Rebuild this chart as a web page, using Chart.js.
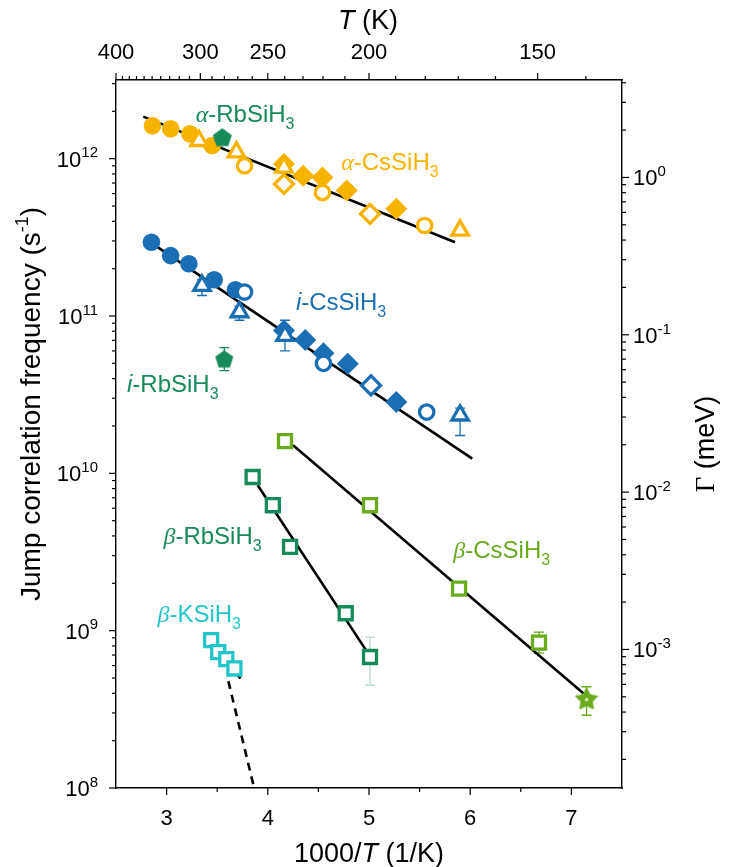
<!DOCTYPE html>
<html><head><meta charset="utf-8">
<script src="https://cdn.jsdelivr.net/npm/chart.js@4.4.1/dist/chart.umd.min.js"></script>
<style>html,body{margin:0;padding:0;background:#fff}#wrap{width:729px;height:867px;position:relative}</style>
</head><body><div id="wrap"><canvas id="c"></canvas></div>
<script>
// ---------- axis ranges / tick values ----------
const X_MIN = 2.5, X_MAX = 7.5;
const Y_MIN = 1e8, Y_MAX = Math.pow(10, 12.5);
const GAMMA_PER_HZ = 1.3164e-12;          // Γ (meV) = 2ħ·ν
const bottomMajor = [3, 4, 5, 6, 7];
const bottomMinor = [3.5, 4.5, 5.5, 6.5];
const topMajorT = [400, 300, 250, 200, 150];
const topMinorT = [390,380,370,360,350,340,330,320,310,290,280,270,260,240,230,220,210,190,180,170,160,140];
const leftExp = [8, 9, 10, 11, 12];
const rightExp = [-3, -2, -1, 0];

// ---------- α-CsSiH3 (orange) ----------
const aCsCircleX = [2.86, 3.04, 3.23, 3.45];
const aCsCircleY = [1.62e12, 1.55e12, 1.44e12, 1.21e12];
const aCsDiaX = [4.16, 4.35, 4.54, 4.78, 5.27];
const aCsDiaY = [9.25e11, 7.8e11, 7.6e11, 6.27e11, 4.8e11];
const aCsOpenDiaX = [4.16, 5.01];
const aCsOpenDiaY = [6.9e11, 4.46e11];
const aCsTriX = [3.32, 3.69, 4.16, 5.90];
const aCsTriY = [1.30e12, 1.10e12, 8.8e11, 3.5e11];
const aCsOpenCircX = [3.77, 4.54, 5.55];
const aCsOpenCircY = [9.0e11, 6.1e11, 3.76e11];
const aCsFitX = [2.77, 5.85];
const aCsFitY = [1.85e12, 2.94e11];

// ---------- α-RbSiH3 ----------
const aRbX = [3.55];
const aRbY = [1.37e12];

// ---------- i-CsSiH3 (blue) ----------
const iCsCircleX = [2.85, 3.04, 3.22, 3.47, 3.68];
const iCsCircleY = [2.94e11, 2.42e11, 2.15e11, 1.70e11, 1.47e11];
const iCsDiaX = [4.16, 4.37, 4.55, 4.79, 5.27];
const iCsDiaY = [8.1e10, 7.05e10, 5.8e10, 4.97e10, 2.84e10];
const iCsOpenDiaX = [5.02];
const iCsOpenDiaY = [3.62e10];
const iCsTriX = [3.35, 3.72, 4.17, 5.90];
const iCsTriY = [1.56e11, 1.06e11, 7.5e10, 2.34e10];
const iCsTriLo = [1.35e11, 9.4e10, 6.0e10, 1.74e10];
const iCsTriHi = [1.70e11, 1.15e11, 9.4e10, 2.6e10];
const iCsOpenCircX = [3.77, 4.55, 5.57];
const iCsOpenCircY = [1.42e11, 5.0e10, 2.45e10];
const iCsFitX = [2.80, 6.02];
const iCsFitY = [3.06e11, 1.24e10];

// ---------- i-RbSiH3 ----------
const iRbX = [3.57];
const iRbY = [5.35e10];
const iRbLo = [4.5e10];
const iRbHi = [6.3e10];

// ---------- β-CsSiH3 ----------
const bCsX = [4.17, 5.01, 5.89, 6.68];
const bCsY = [1.60e10, 6.27e9, 1.85e9, 8.4e8];
const bCsLo = [null, null, null, 7.2e8];
const bCsHi = [null, null, null, 9.8e8];
const bCsStarX = [7.15];
const bCsStarY = [3.7e8];
const bCsStarLo = [2.9e8];
const bCsStarHi = [4.4e8];
const bCsFitX = [4.25, 7.12];
const bCsFitY = [1.51e10, 3.99e8];

// ---------- β-RbSiH3 ----------
const bRbX = [3.85, 4.05, 4.22, 4.77, 5.01];
const bRbY = [9.48e9, 6.27e9, 3.41e9, 1.29e9, 6.8e8];
const bRbLo = [null, null, null, null, 4.5e8];
const bRbHi = [null, null, null, null, 9.1e8];
const bRbFitX = [3.90, 4.97];
const bRbFitY = [8.39e9, 7.52e8];

// ---------- β-KSiH3 ----------
const bKX = [3.44, 3.51, 3.59, 3.67];
const bKY = [8.7e8, 7.3e8, 6.6e8, 5.75e8];
const bKFitX = [3.39, 3.73];
const bKFitY = [9.36e8, 4.97e8];
const bKDashX = [3.61, 3.865];
const bKDashY = [4.78e8, 1.0e8];

// ---------- colours ----------
const ORANGE = '#f6b300', BLUE = '#1a6fb4', GREEN = '#178a5a', LGREEN = '#6aab1e', CYAN = '#22c6c8', BRB_ERR = '#b5dccd';

const pts = (xs, ys) => xs.map((x, i) => ({x: x, y: ys[i]}));

function makeShape(kind, size, color) {
  const c = document.createElement('canvas');
  c.width = size; c.height = size;
  const g = c.getContext('2d');
  const cx = size / 2, cy = size / 2;
  g.fillStyle = color;
  g.beginPath();
  if (kind === 'pentagon') {
    const r = size / 2 - 0.5;
    for (let i = 0; i < 5; i++) {
      const a = -Math.PI / 2 + i * 2 * Math.PI / 5;
      g.lineTo(cx + r * Math.cos(a), cy + 1 + r * Math.sin(a));
    }
  } else {
    const R = size / 2 - 0.5, r = R * 0.52;
    for (let i = 0; i < 10; i++) {
      const a = -Math.PI / 2 + i * Math.PI / 5;
      const rr = i % 2 ? r : R;
      g.lineTo(cx + rr * Math.cos(a), cy + 1 + rr * Math.sin(a));
    }
  }
  g.closePath();
  g.fill();
  if (kind === 'star') { g.fillStyle = '#fff'; g.beginPath(); g.arc(cx, cy + 1, 1.6, 0, Math.PI * 2); g.fill(); }
  return c;
}

function markers(label, xs, ys, style, color, opts) {
  return Object.assign({
    type: 'scatter', label: label, data: pts(xs, ys), pointStyle: style,
    pointRadius: 8, pointHoverRadius: 8, borderColor: color, backgroundColor: color,
    pointBorderWidth: 0, showLine: false, xAxisID: 'x', yAxisID: 'y'
  }, opts || {});
}
function openMarkers(label, xs, ys, style, color, r, opts) {
  return markers(label, xs, ys, style, color, Object.assign({
    pointRadius: r, pointHoverRadius: r, backgroundColor: '#ffffff', pointBorderWidth: 3.3, borderWidth: 3.3
  }, opts || {}));
}
function fitLine(label, xs, ys, dash) {
  return {type: 'scatter', label: label, data: pts(xs, ys), showLine: true, borderColor: '#000',
    borderWidth: 2.6, pointRadius: 0, pointHoverRadius: 0, borderDash: dash || [], order: 100,
    xAxisID: 'x', yAxisID: 'y'};
}

const datasets = [
  fitLine('α-CsSiH3 fit', aCsFitX, aCsFitY),
  fitLine('i-CsSiH3 fit', iCsFitX, iCsFitY),
  fitLine('β-CsSiH3 fit', bCsFitX, bCsFitY),
  fitLine('β-RbSiH3 fit', bRbFitX, bRbFitY),
  fitLine('β-KSiH3 fit', bKFitX, bKFitY),
  fitLine('β-KSiH3 extrapolation', bKDashX, bKDashY, [8, 6]),

  markers('α-CsSiH3 ●', aCsCircleX, aCsCircleY, 'circle', ORANGE, {pointRadius: 8.8, order: 60}),
  markers('α-CsSiH3 ◆', aCsDiaX, aCsDiaY, 'rectRot', ORANGE, {pointRadius: 11, order: 50}),
  openMarkers('α-CsSiH3 ◇', aCsOpenDiaX, aCsOpenDiaY, 'rectRot', ORANGE, 9.5, {order: 40}),
  openMarkers('α-CsSiH3 △', aCsTriX, aCsTriY, 'triangle', ORANGE, 9.5, {order: 30}),
  openMarkers('α-CsSiH3 ○', aCsOpenCircX, aCsOpenCircY, 'circle', ORANGE, 7.2, {order: 20}),
  markers('α-RbSiH3', aRbX, aRbY, makeShape('pentagon', 21, GREEN), GREEN, {order: 10}),

  markers('i-CsSiH3 ●', iCsCircleX, iCsCircleY, 'circle', BLUE, {pointRadius: 8.8, order: 60}),
  markers('i-CsSiH3 ◆', iCsDiaX, iCsDiaY, 'rectRot', BLUE, {pointRadius: 11, order: 50}),
  openMarkers('i-CsSiH3 ◇', iCsOpenDiaX, iCsOpenDiaY, 'rectRot', BLUE, 9.5, {order: 40}),
  openMarkers('i-CsSiH3 △', iCsTriX, iCsTriY, 'triangle', BLUE, 9.5, {order: 30}),
  openMarkers('i-CsSiH3 ○', iCsOpenCircX, iCsOpenCircY, 'circle', BLUE, 7.2, {order: 20}),
  markers('i-RbSiH3', iRbX, iRbY, makeShape('pentagon', 20, GREEN), GREEN, {order: 10}),

  openMarkers('β-CsSiH3 □', bCsX, bCsY, 'rect', LGREEN, 9.2, {order: 20}),
  markers('β-CsSiH3 ★', bCsStarX, bCsStarY, makeShape('star', 26, LGREEN), LGREEN, {order: 10}),
  openMarkers('β-RbSiH3 □', bRbX, bRbY, 'rect', GREEN, 9.2, {order: 20}),
  openMarkers('β-KSiH3 □', bKX, bKY, 'rect', CYAN, 9.2, {order: 20})
];

const errorBars = [
  {xs: iCsTriX, lo: iCsTriLo, hi: iCsTriHi, color: BLUE},
  {xs: iRbX, lo: iRbLo, hi: iRbHi, color: GREEN},
  {xs: bCsX, lo: bCsLo, hi: bCsHi, color: LGREEN},
  {xs: bCsStarX, lo: bCsStarLo, hi: bCsStarHi, color: LGREEN},
  {xs: bRbX, lo: bRbLo, hi: bRbHi, color: BRB_ERR}
];

const SANS = '"Liberation Sans", Arial, sans-serif';
const SERIF = '"Liberation Serif", "Times New Roman", serif';
const annotations = [
  {x: 3.287, y: 1.93e12, color: GREEN,  segs: [['α', 'gi'], ['-RbSiH', 'n'], ['3', 's']]},
  {x: 4.725, y: 9.62e11, color: ORANGE, segs: [['α', 'gi'], ['-CsSiH', 'n'], ['3', 's']]},
  {x: 4.278, y: 1.24e11, color: BLUE,   segs: [['i', 'i'], ['-CsSiH', 'n'], ['3', 's']]},
  {x: 2.609, y: 3.74e10, color: GREEN,  segs: [['i', 'i'], ['-RbSiH', 'n'], ['3', 's']]},
  {x: 2.969, y: 4.04e9,  color: GREEN,  segs: [['β', 'gi'], ['-RbSiH', 'n'], ['3', 's']]},
  {x: 2.910, y: 1.29e9,  color: CYAN,   segs: [['β', 'gi'], ['-KSiH', 'n'], ['3', 's']]},
  {x: 5.833, y: 3.28e9,  color: LGREEN, segs: [['β', 'gi'], ['-CsSiH', 'n'], ['3', 's']]}
];

function fontFor(kind, size) {
  if (kind === 'gi') return 'italic ' + size + 'px ' + SERIF;
  if (kind === 'g') return size + 'px ' + SERIF;
  if (kind === 'i') return 'italic ' + size + 'px ' + SANS;
  if (kind === 's' || kind === 'sup') return Math.round(size * 0.66) + 'px ' + SANS;
  return size + 'px ' + SANS;
}
function drawRich(ctx, segs, x, baseline, size, align) {
  let total = 0;
  const m = segs.map(s => { ctx.font = fontFor(s[1], size); const w = ctx.measureText(s[0]).width; total += w; return w; });
  let cx = align === 'right' ? x - total : (align === 'center' ? x - total / 2 : x);
  segs.forEach((s, i) => {
    ctx.font = fontFor(s[1], size);
    let dy = 0;
    if (s[1] === 's') dy = size * 0.28;
    if (s[1] === 'sup') dy = -size * 0.42;
    ctx.fillText(s[0], cx, baseline + dy);
    cx += m[i];
  });
}

const decor = {
  id: 'decor',
  beforeDatasetsDraw(chart) {
    const ctx = chart.ctx, xs = chart.scales.x, ys = chart.scales.y;
    ctx.save();
    ctx.lineWidth = 1.3;
    errorBars.forEach(eb => {
      ctx.strokeStyle = eb.color;
      eb.xs.forEach((xv, i) => {
        if (eb.lo[i] == null) return;
        const px = xs.getPixelForValue(xv), p1 = ys.getPixelForValue(eb.lo[i]), p2 = ys.getPixelForValue(eb.hi[i]);
        ctx.beginPath();
        ctx.moveTo(px, p1); ctx.lineTo(px, p2);
        ctx.moveTo(px - 5, p1); ctx.lineTo(px + 5, p1);
        ctx.moveTo(px - 5, p2); ctx.lineTo(px + 5, p2);
        ctx.stroke();
      });
    });
    ctx.restore();
  },
  afterDraw(chart) {
    const ctx = chart.ctx, ca = chart.chartArea;
    const xs = chart.scales.x, xt = chart.scales.xTop, ys = chart.scales.y, y2 = chart.scales.y2;
    ctx.save();
    ctx.strokeStyle = '#000'; ctx.fillStyle = '#000'; ctx.lineWidth = 1.2;
    const L = (a, b, c, d) => { ctx.beginPath(); ctx.moveTo(a, b); ctx.lineTo(c, d); ctx.stroke(); };
    const MAJ = 7, MIN = 4;
    bottomMajor.forEach(v => { const p = xs.getPixelForValue(v); L(p, ca.bottom, p, ca.bottom + MAJ); });
    bottomMinor.forEach(v => { const p = xs.getPixelForValue(v); L(p, ca.bottom, p, ca.bottom + MIN); });
    topMajorT.forEach(T => { const p = xt.getPixelForValue(1000 / T); L(p, ca.top, p, ca.top - MAJ); });
    topMinorT.forEach(T => { const p = xt.getPixelForValue(1000 / T); L(p, ca.top, p, ca.top - MIN); });
    for (let e = 8; e <= 12; e++) for (let k = 1; k <= 9; k++) {
      const v = k * Math.pow(10, e); if (v > Y_MAX) break;
      const p = ys.getPixelForValue(v); L(ca.left - (k === 1 ? MAJ : MIN), p, ca.left, p);
    }
    for (let e = -4; e <= 0; e++) for (let k = 1; k <= 9; k++) {
      const v = k * Math.pow(10, e); if (v < y2.min || v > y2.max) continue;
      const p = y2.getPixelForValue(v); L(ca.right, p, ca.right + (k === 1 ? MAJ : MIN), p);
    }
    const TS = 22;
    ctx.textBaseline = 'alphabetic';
    ctx.font = TS + 'px ' + SANS; ctx.textAlign = 'center';
    bottomMajor.forEach(v => ctx.fillText(String(v), xs.getPixelForValue(v), 825));
    topMajorT.forEach(T => ctx.fillText(String(T), xt.getPixelForValue(1000 / T), 59));
    ctx.textAlign = 'left';
    leftExp.forEach(e => drawRich(ctx, [['10', 'n'], [String(e), 'sup']], 98, ys.getPixelForValue(Math.pow(10, e)) + 8, TS, 'right'));
    rightExp.forEach(e => drawRich(ctx, [['10', 'n'], [String(e), 'sup']], 633, y2.getPixelForValue(Math.pow(10, e)) + 8, TS, 'left'));
    const AS = 27;
    drawRich(ctx, [['1000/', 'n'], ['T', 'i'], [' (1/K)', 'n']], (ca.left + ca.right) / 2, 862, AS, 'center');
    drawRich(ctx, [['T', 'i'], [' (K)', 'n']], 368, 29, AS, 'center');
    ctx.save(); ctx.translate(40, 404); ctx.rotate(-Math.PI / 2);
    drawRich(ctx, [['Jump correlation frequency (s', 'n'], ['-1', 'sup'], [')', 'n']], 0, 0, 28, 'center');
    ctx.restore();
    ctx.save(); ctx.translate(714, 444); ctx.rotate(-Math.PI / 2);
    drawRich(ctx, [['Γ', 'g'], [' (meV)', 'n']], 0, 0, AS, 'center');
    ctx.restore();
    const NS = 24;
    annotations.forEach(a => {
      ctx.fillStyle = a.color;
      drawRich(ctx, a.segs, xs.getPixelForValue(a.x), ys.getPixelForValue(a.y) + NS * 0.36, NS, 'left');
    });
    ctx.restore();
  }
};

const axisBase = {grid: {display: false}, border: {display: true, color: '#000', width: 1.4}, ticks: {display: false}};
new Chart(document.getElementById('c'), {
  type: 'scatter',
  data: {datasets: datasets},
  options: {
    responsive: true, maintainAspectRatio: false, animation: false, devicePixelRatio: 1,
    layout: {padding: 0},
    plugins: {legend: {display: false}, tooltip: {enabled: false}},
    scales: {
      x: Object.assign({type: 'linear', position: 'bottom', min: X_MIN, max: X_MAX, afterFit(s) { s.height = 79; }}, axisBase),
      xTop: Object.assign({type: 'linear', position: 'top', min: X_MIN, max: X_MAX, afterFit(s) { s.height = 80; }}, axisBase),
      y: Object.assign({type: 'logarithmic', position: 'left', min: Y_MIN, max: Y_MAX, afterFit(s) { s.width = 116; }}, axisBase),
      y2: Object.assign({type: 'logarithmic', position: 'right', min: Y_MIN * GAMMA_PER_HZ, max: Y_MAX * GAMMA_PER_HZ, afterFit(s) { s.width = 107; }}, axisBase)
    }
  },
  plugins: [decor]
});
</script></body></html>
